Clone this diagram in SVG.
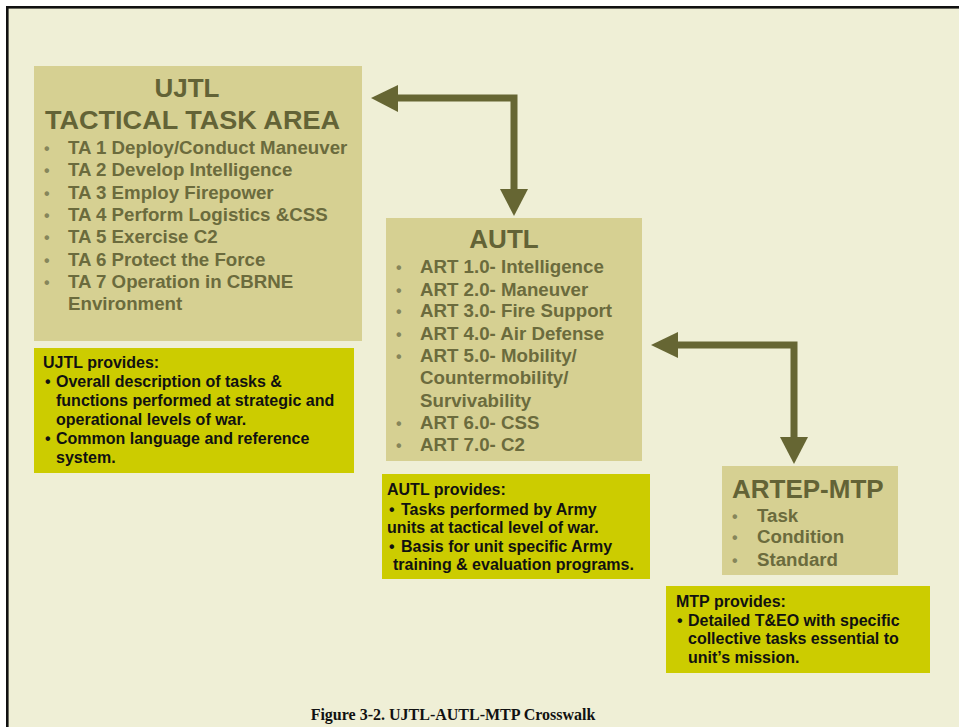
<svg xmlns="http://www.w3.org/2000/svg" width="959" height="727" viewBox="0 0 959 727">
  <defs>
    <style>
      .frame { fill: #EFEFD6; stroke: #111111; stroke-width: 2.6; }
      .area { fill: #D6D092; }
      .note { fill: #CCCC00; }
      .title { font-family: "Liberation Sans", Arial, sans-serif; font-weight: bold; font-size: 26px; fill: #636336; }
      .item { font-family: "Liberation Sans", Arial, sans-serif; font-weight: bold; font-size: 18.7px; fill: #6B6B3D; }
      .dot { font-family: "Liberation Sans", Arial, sans-serif; font-weight: bold; font-size: 16px; fill: #86865A; }
      .nt { font-family: "Liberation Sans", Arial, sans-serif; font-weight: bold; font-size: 16px; fill: #111111; }
      .cap { font-family: "Liberation Serif", "Times New Roman", serif; font-weight: bold; font-size: 16px; fill: #111111; }
      .shaft { fill: none; stroke: #666633; stroke-width: 7; stroke-linejoin: miter; }
      .head { fill: #666633; }
    </style>
  </defs>

  <!-- page background and frame -->
  <rect x="0" y="0" width="959" height="727" fill="#FFFFFF"/>
  <rect class="frame" x="7.3" y="7.3" width="970" height="740"/>

  <!-- connectors -->
  <g id="connectors">
    <!-- UJTL <-> AUTL -->
    <path class="shaft" d="M396 98 H514 V191"/>
    <polygon class="head" points="371,98 398,85 398,112"/>
    <polygon class="head" points="514,216 500,189 528,189"/>
    <!-- AUTL <-> ARTEP-MTP -->
    <path class="shaft" d="M676 345 H794 V439"/>
    <polygon class="head" points="651,345 678,332 678,358"/>
    <polygon class="head" points="794,464 780,437 808,437"/>
  </g>

  <!-- UJTL tactical task area -->
  <g id="ujtl">
    <rect class="area" x="34" y="66" width="328" height="275"/>
    <text class="title" x="187" y="97" text-anchor="middle">UJTL</text>
    <text class="title" x="45" y="129" textLength="295" lengthAdjust="spacingAndGlyphs">TACTICAL TASK AREA</text>
    <g class="dot">
      <text x="44" y="154">•</text>
      <text x="44" y="176">•</text>
      <text x="44" y="199">•</text>
      <text x="44" y="221">•</text>
      <text x="44" y="243">•</text>
      <text x="44" y="266">•</text>
      <text x="44" y="288">•</text>
    </g>
    <text class="item" x="68" y="154">TA 1 Deploy/Conduct Maneuver</text>
    <text class="item" x="68" y="176">TA 2 Develop Intelligence</text>
    <text class="item" x="68" y="199">TA 3 Employ Firepower</text>
    <text class="item" x="68" y="221">TA 4 Perform Logistics &amp;CSS</text>
    <text class="item" x="68" y="243">TA 5 Exercise C2</text>
    <text class="item" x="68" y="266">TA 6 Protect the Force</text>
    <text class="item" x="68" y="288">TA 7 Operation in CBRNE</text>
    <text class="item" x="68" y="310">Environment</text>
  </g>

  <g id="ujtl-note">
    <rect class="note" x="34" y="348" width="320" height="125"/>
    <text class="nt" x="43" y="368">UJTL provides:</text>
    <text class="nt" x="45" y="387">•</text>
    <text class="nt" x="56" y="387">Overall description of tasks &amp;</text>
    <text class="nt" x="56" y="406">functions performed at strategic and</text>
    <text class="nt" x="56" y="425">operational levels of war.</text>
    <text class="nt" x="45" y="444">•</text>
    <text class="nt" x="56" y="444">Common language and reference</text>
    <text class="nt" x="56" y="463">system.</text>
  </g>

  <!-- AUTL -->
  <g id="autl">
    <rect class="area" x="386" y="218" width="256" height="243"/>
    <text class="title" x="504" y="248" text-anchor="middle">AUTL</text>
    <g class="dot">
      <text x="396" y="273">•</text>
      <text x="396" y="296">•</text>
      <text x="396" y="317">•</text>
      <text x="396" y="340">•</text>
      <text x="396" y="362">•</text>
      <text x="396" y="429">•</text>
      <text x="396" y="451">•</text>
    </g>
    <text class="item" x="420" y="273">ART 1.0- Intelligence</text>
    <text class="item" x="420" y="296">ART 2.0- Maneuver</text>
    <text class="item" x="420" y="317">ART 3.0- Fire Support</text>
    <text class="item" x="420" y="340">ART 4.0- Air Defense</text>
    <text class="item" x="420" y="362">ART 5.0- Mobility/</text>
    <text class="item" x="420" y="384">Countermobility/</text>
    <text class="item" x="420" y="407">Survivability</text>
    <text class="item" x="420" y="429">ART 6.0- CSS</text>
    <text class="item" x="420" y="451">ART 7.0- C2</text>
  </g>

  <g id="autl-note">
    <rect class="note" x="382" y="474" width="268" height="105"/>
    <text class="nt" x="387" y="495">AUTL provides:</text>
    <text class="nt" x="389" y="515">•</text>
    <text class="nt" x="401" y="515">Tasks performed by Army</text>
    <text class="nt" x="387" y="533">units at tactical level of war.</text>
    <text class="nt" x="389" y="552">•</text>
    <text class="nt" x="401" y="552">Basis for unit specific Army</text>
    <text class="nt" x="393" y="570">training &amp; evaluation programs.</text>
  </g>

  <!-- ARTEP-MTP -->
  <g id="artep-mtp">
    <rect class="area" x="722" y="466" width="176" height="109"/>
    <text class="title" x="732" y="498">ARTEP-MTP</text>
    <g class="dot">
      <text x="732" y="522">•</text>
      <text x="732" y="543">•</text>
      <text x="732" y="566">•</text>
    </g>
    <text class="item" x="757" y="522">Task</text>
    <text class="item" x="757" y="543">Condition</text>
    <text class="item" x="757" y="566">Standard</text>
  </g>

  <g id="mtp-note">
    <rect class="note" x="666" y="586" width="264" height="87"/>
    <text class="nt" x="676" y="607">MTP provides:</text>
    <text class="nt" x="677" y="626">•</text>
    <text class="nt" x="688" y="626">Detailed T&amp;EO with specific</text>
    <text class="nt" x="688" y="644">collective tasks essential to</text>
    <text class="nt" x="688" y="663">unit’s mission.</text>
  </g>

  <text class="cap" x="453" y="720" text-anchor="middle">Figure 3-2. UJTL-AUTL-MTP Crosswalk</text>
</svg>
